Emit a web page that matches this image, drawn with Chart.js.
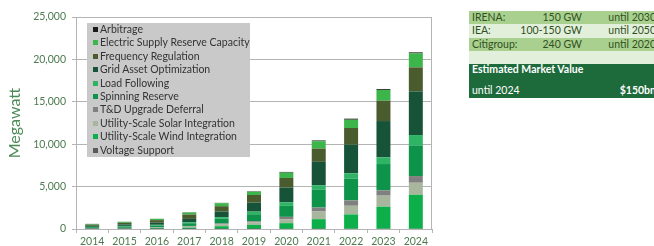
<!DOCTYPE html>
<html>
<head>
<meta charset="utf-8">
<script src="https://cdn.jsdelivr.net/npm/chart.js@4.4.1/dist/chart.umd.min.js"></script>
<style>
  body { margin: 0; background: #fff; overflow: hidden; }
  #wrap { position: relative; width: 654px; height: 246px; overflow: hidden; font-family: Lato, sans-serif; }
  #box { position: absolute; left: 0; top: 0; width: 440px; height: 246px; }
  #legend { position: absolute; left: 87px; top: 23px; width: 163px; height: 134px; background: #c9c9c9; }
  #legend div { height: 13.4px; line-height: 13.4px; font-size: 10.5px; color: #333; white-space: nowrap; padding-left: 6px; }
  #legend span { display: inline-block; width: 5px; height: 5px; margin-right: 2px; vertical-align: 1px; }
  #facts { position: absolute; left: 469px; top: 11px; width: 190px; font-size: 10.5px; color: #30501f; }
  #facts .row { position: relative; height: 13.3px; line-height: 13.3px; }
  #facts .a { background: #a9d08e; }
  #facts .b { background: #e2efda; }
  #facts .c1 { position: absolute; left: 3px; }
  #facts .c2 { position: absolute; right: 77px; }
  #facts .c3 { position: absolute; right: 3px; }
  #facts .dark { background: #1d6a3a; color: #fff; height: 34px; position: relative; line-height: 13px; }
  #facts .dark span { position: absolute; white-space: nowrap; }
</style>
</head>
<body>
<div id="wrap">
  <div id="box"><canvas id="myChart"></canvas></div>
  <div id="legend"></div>
  <div id="facts">
    <div class="row a"><span class="c1">IRENA:</span><span class="c2">150 GW</span><span class="c3">until 2030</span></div>
    <div class="row b"><span class="c1">IEA:</span><span class="c2">100-150 GW</span><span class="c3">until 2050</span></div>
    <div class="row a"><span class="c1">Citigroup:</span><span class="c2">240 GW</span><span class="c3">until 2020</span></div>
    <div class="row b"></div>
    <div class="dark">
      <span style="left:3px;top:-1px;font-weight:bold">Estimated Market Value</span>
      <span style="left:3px;top:20px">until 2024</span>
      <span style="right:3px;top:20px;font-weight:bold">$150bn</span>
    </div>
  </div>
</div>
<script>
var years = ["2014", "2015", "2016", "2017", "2018", "2019", "2020", "2021", "2022", "2023", "2024"];
var yTicks = [0, 5000, 10000, 15000, 20000, 25000];

// stacked bottom to top
var voltageSupport = [5, 5, 5, 10, 10, 10, 20, 20, 30, 30, 30];
var windIntegration = [40, 60, 90, 150, 320, 470, 670, 1140, 1690, 2600, 4010];
var solarIntegration = [30, 40, 60, 120, 200, 310, 470, 900, 1020, 1300, 1415];
var tdDeferral = [20, 30, 40, 80, 120, 120, 270, 470, 630, 630, 790];
var spinningReserve = [120, 170, 220, 320, 550, 830, 1300, 2090, 2560, 3100, 3620];
var loadFollowing = [40, 60, 80, 120, 200, 310, 430, 550, 630, 790, 1215];
var gridAsset = [130, 180, 250, 390, 660, 1060, 1720, 2750, 3380, 4280, 5150];
var frequencyRegulation = [130, 190, 300, 520, 630, 900, 1140, 1570, 1970, 2400, 2830];
var supplyReserve = [80, 110, 150, 240, 350, 390, 630, 870, 980, 1260, 1650];
var arbitrage = [10, 10, 10, 30, 40, 50, 80, 80, 120, 100, 120];

var series = [
    { label: "Voltage Support", data: voltageSupport, color: "#5a5a5a" },
    { label: "Utility-Scale Wind Integration", data: windIntegration, color: "#0daf4b" },
    { label: "Utility-Scale Solar Integration", data: solarIntegration, color: "#a7b69d" },
    { label: "T&D Upgrade Deferral", data: tdDeferral, color: "#808080" },
    { label: "Spinning Reserve", data: spinningReserve, color: "#0e934a" },
    { label: "Load Following", data: loadFollowing, color: "#2fb466" },
    { label: "Grid Asset Optimization", data: gridAsset, color: "#175338" },
    { label: "Frequency Regulation", data: frequencyRegulation, color: "#4a5b2d" },
    { label: "Electric Supply Reserve Capacity", data: supplyReserve, color: "#3cb54a" },
    { label: "Arbitrage", data: arbitrage, color: "#1a1a1a" }
];

// legend box, alphabetical = reverse of stack
var legendEl = document.getElementById("legend");
series.slice().reverse().forEach(function (s) {
    var row = document.createElement("div");
    var sq = document.createElement("span");
    sq.style.background = s.color;
    row.appendChild(sq);
    row.appendChild(document.createTextNode(s.label));
    legendEl.appendChild(row);
});

var frame = {
    id: "frame",
    beforeDatasetsDraw: function (chart) {
        var a = chart.chartArea, ctx = chart.ctx;
        ctx.save();
        ctx.strokeStyle = "#b4b4b4";
        ctx.lineWidth = 1;
        ctx.beginPath();
        ctx.moveTo(Math.round(a.right) - 0.5, a.top);
        ctx.lineTo(Math.round(a.right) - 0.5, a.bottom);
        ctx.stroke();
        ctx.restore();
    }
};

var ctx = document.getElementById("myChart").getContext("2d");
var myChart = new Chart(ctx, {
    type: "bar",
    data: {
        labels: years,
        datasets: series.map(function (s) {
            return {
                label: s.label,
                data: s.data,
                backgroundColor: s.color,
                borderWidth: 0,
                barPercentage: 0.54,
                categoryPercentage: 0.8
            };
        })
    },
    options: {
        responsive: true,
        maintainAspectRatio: false,
        animation: false,
        layout: { padding: { left: 5, right: 8, top: 17, bottom: 0 } },
        plugins: { legend: { display: false }, tooltip: { enabled: false } },
        scales: {
            x: {
                stacked: true,
                afterFit: function (scale) { scale.height = 17; },
                grid: { offset: true, drawOnChartArea: false, drawTicks: true, tickLength: 4, color: "#b4b4b4" },
                border: { color: "#b4b4b4" },
                ticks: { color: "#4d7a4f", padding: 2, font: { family: "Lato", size: 10.5 } }
            },
            y: {
                stacked: true,
                min: 0,
                max: 25000,
                afterFit: function (scale) { scale.width = 71; },
                afterBuildTicks: function (scale) {
                    scale.ticks = yTicks.map(function (v) { return { value: v }; });
                },
                grid: { color: "#b4b4b4", tickLength: 4 },
                border: { color: "#b4b4b4" },
                ticks: {
                    color: "#4d7a4f",
                    padding: 6,
                    font: { family: "Lato", size: 10.5 },
                    callback: function (v) { return v.toLocaleString("en-US"); }
                },
                title: {
                    display: true,
                    text: "Megawatt",
                    color: "#4b8a55",
                    font: { family: "Lato", size: 16 },
                    padding: { top: 0, bottom: 0 }
                }
            }
        }
    },
    plugins: [frame]
});
</script>
</body>
</html>
